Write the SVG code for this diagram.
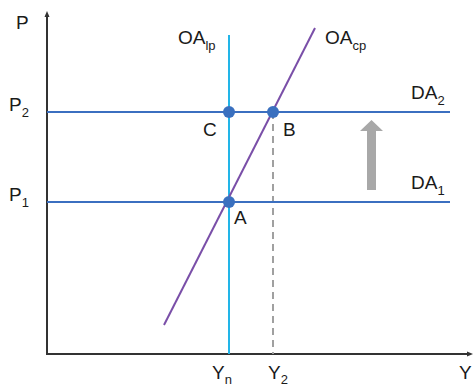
<svg xmlns="http://www.w3.org/2000/svg" width="474" height="388" viewBox="0 0 474 388">
<style>
text{font-family:"Liberation Sans",Arial,sans-serif;font-size:19px;fill:#1a1a1a}
.sub{font-size:13px}
.axis{stroke:#333;stroke-width:2;fill:none}
.da{stroke:#3b6fc0;stroke-width:2}
.dot{fill:#3a70bf}
</style>
<rect width="474" height="388" fill="#fff"/>
<g id="axes">
<line class="axis" x1="47" y1="354" x2="47" y2="16"/>
<polygon points="47,11 44.5,17 49.5,17" fill="#333"/>
<line class="axis" x1="46" y1="354" x2="468" y2="354"/>
<polygon points="473,354 467,351.5 467,356.5" fill="#333"/>
</g>
<g id="connectors">
<line x1="273" y1="112" x2="273" y2="354" stroke="#a0a0a0" stroke-width="2" stroke-dasharray="7,5"/>
<line id="DA2" class="da" x1="47" y1="112" x2="450" y2="112"/>
<line id="DA1" class="da" x1="47" y1="202" x2="450" y2="202"/>
<line id="OAlp" x1="229" y1="35" x2="229" y2="354" stroke="#22b5e8" stroke-width="2"/>
<line id="OAcp" x1="164" y1="325" x2="315" y2="28" stroke="#7a4fa8" stroke-width="2"/>
<polygon points="367,190 376,190 376,131 383,131 371.5,120 360,131 367,131" fill="#a8a8a8"/>
</g>
<g id="nodeA"><circle class="dot" cx="229" cy="202" r="6"/><text x="234" y="224">A</text></g>
<g id="nodeB"><circle class="dot" cx="273" cy="112" r="6"/><text x="283" y="136">B</text></g>
<g id="nodeC"><circle class="dot" cx="229" cy="112" r="6"/><text x="203" y="136">C</text></g>
<g id="labels">
<text x="16" y="29">P</text>
<text x="9" y="111">P<tspan class="sub" dy="6">2</tspan></text>
<text x="9" y="201">P<tspan class="sub" dy="6">1</tspan></text>
<text x="178" y="44">OA<tspan class="sub" dy="6">lp</tspan></text>
<text x="325" y="44">OA<tspan class="sub" dy="6">cp</tspan></text>
<text x="411" y="99">DA<tspan class="sub" dy="6">2</tspan></text>
<text x="411" y="189">DA<tspan class="sub" dy="6">1</tspan></text>
<text x="212" y="379">Y<tspan class="sub" dy="5">n</tspan></text>
<text x="268" y="379">Y<tspan class="sub" dy="5">2</tspan></text>
<text x="459" y="379">Y</text>
</g>
</svg>
